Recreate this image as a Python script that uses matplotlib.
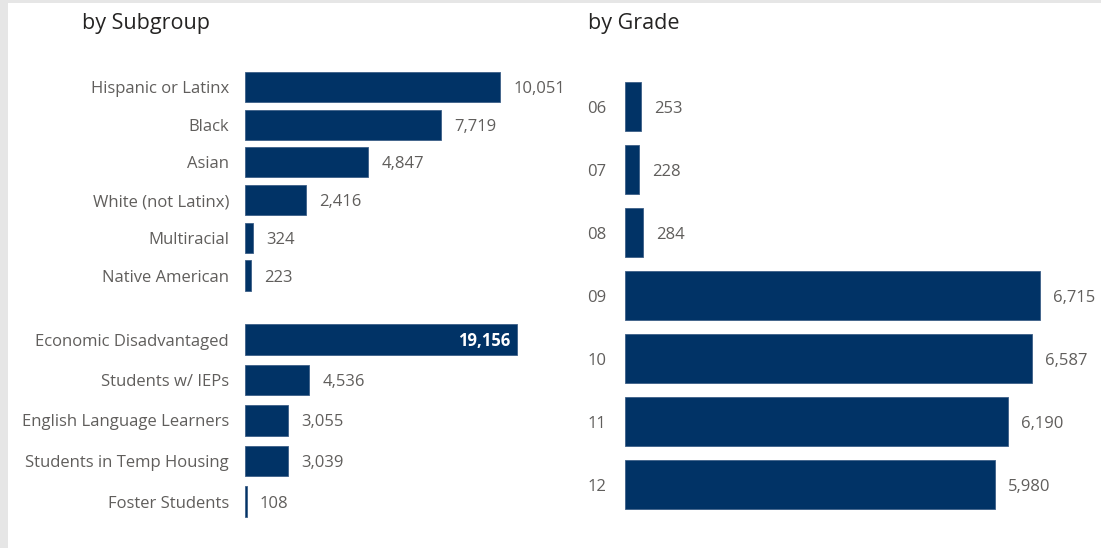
import matplotlib.pyplot as plt
from matplotlib.patches import Rectangle

W, H = 1101, 548

race_labels = ["Hispanic or Latinx", "Black", "Asian", "White (not Latinx)",
               "Multiracial", "Native American"]
race_values = [10051, 7719, 4847, 2416, 324, 223]

group_labels = ["Economic Disadvantaged", "Students w/ IEPs", "English Language Learners",
                "Students in Temp Housing", "Foster Students"]
group_values = [19156, 4536, 3055, 3039, 108]

grade_labels = ["06", "07", "08", "09", "10", "11", "12"]
grade_values = [253, 228, 284, 6715, 6587, 6190, 5980]

BAR = "#013366"
LABEL = "#605E5C"
TITLE = "#252423"

plt.rcParams['font.family'] = ['Open Sans', 'DejaVu Sans']

fig = plt.figure(figsize=(W / 100, H / 100), dpi=100)
fig.patch.set_facecolor("white")
# grey frame on the left and top
fig.patches.append(Rectangle((0, 0), 8 / W, 1, transform=fig.transFigure,
                             facecolor="#e6e6e6", edgecolor="none", zorder=0))
fig.patches.append(Rectangle((0, 1 - 3 / H), 1, 3 / H, transform=fig.transFigure,
                             facecolor="#e6e6e6", edgecolor="none", zorder=0))


def px_axes(x0, top, w, h):
    return fig.add_axes([x0 / W, 1 - (top + h) / H, w / W, h / H])


def bars(ax, labels, values, xmax, height, pad):
    n = len(values)
    ax.barh(range(n), values, height=height, color=BAR, edgecolor="#3d5f88", linewidth=0.6)
    ax.set_xlim(0, xmax)
    ax.set_ylim(n - 0.5, -0.5)
    ax.set_yticks(range(n), labels)
    ax.set_xticks([])
    ax.tick_params(left=False, pad=pad, labelsize=12, labelcolor=LABEL)
    for s in ax.spines.values():
        s.set_visible(False)
    ax.patch.set_alpha(0)
    for i, v in enumerate(values):
        if v > 15000:
            ax.annotate(f"{v:,}", xy=(v, i), xytext=(-5, 0), textcoords="offset points",
                        va="center_baseline", ha="right", fontsize=12, color="white",
                        fontweight="bold")
        else:
            ax.annotate(f"{v:,}", xy=(v, i), xytext=(9.5, 0), textcoords="offset points",
                        va="center_baseline", ha="left", fontsize=12, color=LABEL)


ax1 = px_axes(245, 68.15, 330, 6 * 37.7)
bars(ax1, race_labels, race_values, 330 / 0.02537, 0.8, 8)

ax2 = px_axes(245, 319.25, 330, 5 * 40.5)
bars(ax2, group_labels, group_values, 330 / 0.014199, 0.765, 8)

ax3 = px_axes(625, 75, 470, 7 * 63)
bars(ax3, grade_labels, grade_values, 470 / 0.0618, 0.78, 10)

fig.text(82 / W, 1 - 29 / H, "by Subgroup", va="baseline", ha="left",
         fontsize=15.5, color=TITLE)
fig.text(588 / W, 1 - 29 / H, "by Grade", va="baseline", ha="left",
         fontsize=15.5, color=TITLE)

fig.savefig("out.png", dpi=100)
